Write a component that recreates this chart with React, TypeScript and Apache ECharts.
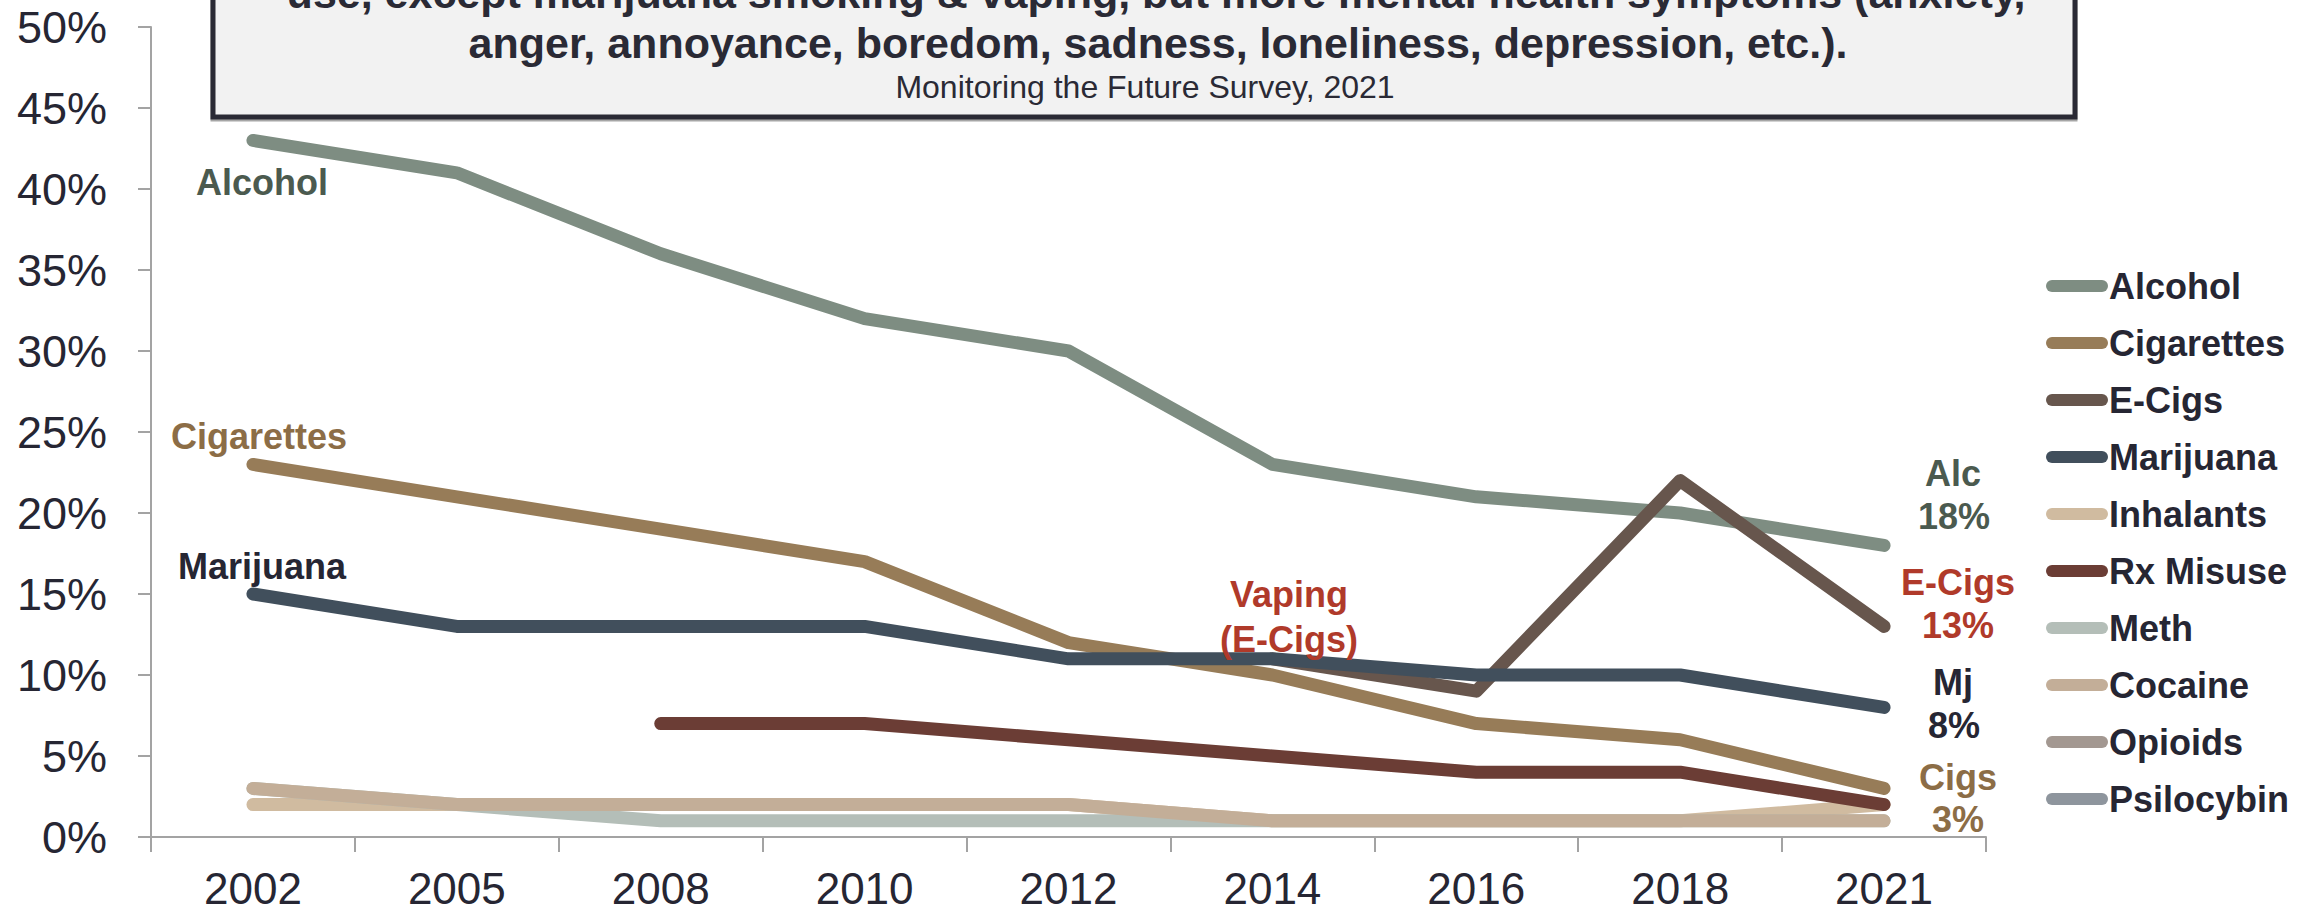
import React, { useEffect, useRef } from "react";
import * as echarts from "echarts";

const years = ["2002", "2005", "2008", "2010", "2012", "2014", "2016", "2018", "2021"];
const seriesNames = ["Alcohol", "Cigarettes", "E-Cigs", "Marijuana", "Inhalants", "Rx Misuse", "Meth", "Cocaine", "Opioids", "Psilocybin"];
const seriesColors = ["#7e8d82", "#977c58", "#67564d", "#414f5c", "#d0bba0", "#6b3d35", "#b4beb8", "#c3ae98", "#a39891", "#8e959d"];
const alcohol = [43, 41, 36, 32, 30, 23, 21, 20, 18];
const cigarettes = [23, 21, 19, 17, 12, 10, 7, 6, 3];
const eCigs = [null, null, null, null, null, 11, 9, 22, 13];
const marijuana = [15, 13, 13, 13, 11, 11, 10, 10, 8];
const inhalants = [2, 2, 2, 2, 2, 1, 1, 1, 2];
const rxMisuse = [null, null, 7, 7, 6, 5, 4, 4, 2];
const meth = [3, 2, 1, 1, 1, 1, 1, 1, 1];
const cocaine = [3, 2, 2, 2, 2, 1, 1, 1, 1];
const opioids = [null, null, null, null, null, null, null, null, 1];
const psilocybin = [null, null, null, null, null, null, null, null, 1];
const allData = [alcohol, cigarettes, eCigs, marijuana, inhalants, rxMisuse, meth, cocaine, opioids, psilocybin];

const titleLine1 = "use, except marijuana smoking & vaping, but more mental health symptoms (anxiety,";
const titleLine2 = "anger, annoyance, boredom, sadness, loneliness, depression, etc.).";
const subtitle = "Monitoring the Future Survey, 2021";

const FONT = "'Liberation Sans', Arial, sans-serif";

function txt(text: string, x: number, y: number, fill: string, size: number, weight: string = "bold") {
  return {
    type: "text",
    x,
    y,
    z: 100,
    style: {
      text,
      fill,
      font: `${weight} ${size}px ${FONT}`,
      align: "center",
      verticalAlign: "middle",
      textAlign: "center",
      textVerticalAlign: "middle",
    },
  };
}

export default function App() {
  const ref = useRef<HTMLDivElement>(null);
  useEffect(() => {
    if (!ref.current) return;
    const chart = echarts.init(ref.current, undefined, { renderer: "svg" });
    const series = seriesNames.map((name, i) => ({
      name,
      type: "line",
      data: allData[i],
      symbol: "none",
      showSymbol: false,
      color: seriesColors[i],
      lineStyle: { color: seriesColors[i], width: 13, cap: "round", join: "round" },
      itemStyle: { color: seriesColors[i] },
    }));
    chart.setOption({
      animation: false,
      backgroundColor: "#ffffff",
      grid: { left: 151, right: 331, top: 27, bottom: 78, containLabel: false },
      legend: {
        orient: "vertical",
        left: 2041,
        top: 263,
        itemWidth: 62,
        itemHeight: 12,
        itemGap: 21,
        icon: "path://M6,0 L56,0 A6,6 0 0 1 56,12 L6,12 A6,6 0 0 1 6,0 Z",
        data: seriesNames,
        textStyle: { fontFamily: FONT, fontWeight: "bold", fontSize: 36, color: "#262633", lineHeight: 36, padding: [0, 0, 0, -4] },
      },
      xAxis: {
        type: "category",
        data: years,
        boundaryGap: true,
        axisLine: { lineStyle: { color: "#a3a3a3", width: 2 } },
        axisTick: { show: true, length: 15, lineStyle: { color: "#a3a3a3", width: 2 } },
        axisLabel: { fontFamily: FONT, fontSize: 44, lineHeight: 40, color: "#262633", margin: 31 },
      },
      yAxis: {
        type: "value",
        min: 0,
        max: 50,
        interval: 5,
        splitLine: { show: false },
        axisLine: { show: true, lineStyle: { color: "#a3a3a3", width: 2 } },
        axisTick: { show: true, length: 13, lineStyle: { color: "#a3a3a3", width: 2 } },
        axisLabel: { formatter: "{value}%", fontFamily: FONT, fontSize: 45, color: "#262633", margin: 44 },
      },
      graphic: [
        {
          type: "rect",
          z: 90,
          shape: { x: 213, y: -120, width: 1862, height: 237 },
          style: { fill: "#f2f2f2", stroke: "#2a2a35", lineWidth: 5, shadowColor: "rgba(0,0,0,0.35)", shadowOffsetY: 2, shadowBlur: 1 },
        },
        txt(titleLine1, 1156, -7, "#2a2a35", 43),
        txt(titleLine2, 1158, 43, "#2a2a35", 43),
        txt(subtitle, 1145, 87, "#2a2a35", 32, "normal"),
        txt("Alcohol", 262, 182, "#4b5a4f", 36),
        txt("Cigarettes", 259, 436, "#8c6d46", 36),
        txt("Marijuana", 262, 566, "#262633", 36),
        txt("Vaping", 1289, 594, "#b03a2a", 36),
        txt("(E-Cigs)", 1289, 639, "#b03a2a", 36),
        txt("Alc", 1953, 473, "#4b5a4f", 36),
        txt("18%", 1954, 516, "#4b5a4f", 36),
        txt("E-Cigs", 1958, 582, "#b03a2a", 36),
        txt("13%", 1958, 625, "#b03a2a", 36),
        txt("Mj", 1953, 682, "#262633", 36),
        txt("8%", 1954, 725, "#262633", 36),
        txt("Cigs", 1958, 777, "#8c6d46", 36),
        txt("3%", 1958, 819, "#8c6d46", 36),
      ],
      series,
    });
    return () => chart.dispose();
  }, []);
  return <div ref={ref} style={{ position: "fixed", left: 0, top: 0, width: 2317, height: 915 }} />;
}
